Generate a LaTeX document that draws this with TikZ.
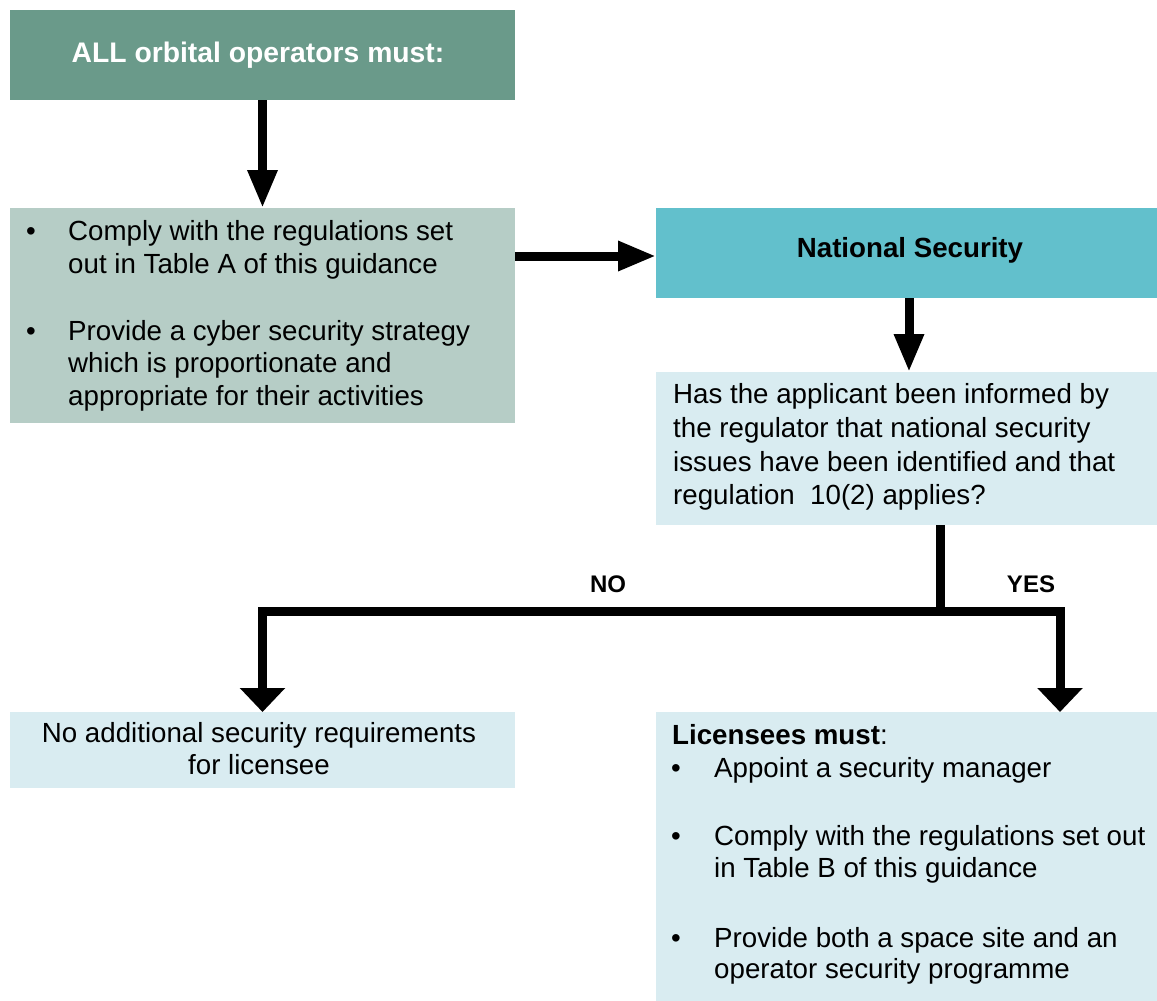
\documentclass[tikz,border=0pt]{standalone}
\usepackage{fontspec}
\setmainfont{Liberation Sans}
\usetikzlibrary{arrows.meta,calc}

\definecolor{headgreen}{RGB}{106,154,138}
\definecolor{palegreen}{RGB}{182,205,198}
\definecolor{teal}{RGB}{98,192,204}
\definecolor{paleblue}{RGB}{217,236,241}

\tikzset{
  box/.style={rectangle, draw=none, inner sep=0pt, outer sep=0pt},
  body/.style={font=\fontsize{27.7bp}{33.5bp}\selectfont, inner sep=0pt, text=black},
  line/.style={anchor=base west, body},
  bul/.style={anchor=base, body},
  flow/.style={line width=9bp, -{Triangle[width=28bp,length=38bp]}},
  branch/.style={line width=9bp, -{Triangle[width=44bp,length=24bp]}},
  stem/.style={line width=9bp},
  answer/.style={anchor=base, inner sep=0pt, font=\fontsize{24bp}{28bp}\selectfont\bfseries}
}

\begin{document}
\begin{tikzpicture}[x=1bp, y=-1bp]
\useasboundingbox (0,0) rectangle (1157,1001);

% boxes
\node[box, fill=headgreen, minimum width=505bp, minimum height=90bp] (top) at (262.5,55) {};
\node[anchor=base, inner sep=0pt, text=white, font=\fontsize{28.3bp}{34bp}\selectfont\bfseries]
  (toptext) at (258,62) {ALL orbital operators must:};
\node[box, fill=palegreen, minimum width=505bp, minimum height=215bp] (rules) at (262.5,315.5) {};
\node[box, fill=teal, minimum width=501bp, minimum height=90bp] (nat) at (906.5,253) {};
\node[anchor=base, inner sep=0pt, font=\fontsize{27.7bp}{33bp}\selectfont\bfseries]
  (nattext) at (910,257) {National Security};
\node[box, fill=paleblue, minimum width=501bp, minimum height=153bp] (ask) at (906.5,448.5) {};
\node[box, fill=paleblue, minimum width=505bp, minimum height=76bp] (none) at (262.5,750) {};
\node[box, fill=paleblue, minimum width=501bp, minimum height=289bp] (must) at (906.5,856.5) {};

% text of the general requirements
\node[bul] (r1b) at (31,240) {•};
\node[line] (r1a) at (68,240) {Comply with the regulations set};
\node[line] (r1c) at (68,273) {out in Table A of this guidance};
\node[bul] (r2b) at (31,340) {•};
\node[line] (r2a) at (68,340) {Provide a cyber security strategy};
\node[line] (r2c) at (68,372) {which is proportionate and};
\node[line] (r2d) at (68,405) {appropriate for their activities};

% question
\node[line] (q1) at (673,403) {Has the applicant been informed by};
\node[line] (q2) at (673,437) {the regulator that national security};
\node[line] (q3) at (673,471) {issues have been identified and that};
\node[line] (q4) at (673,504) {regulation~ 10(2) applies?};

% outcome: no
\node[bul] (n1) at (259,742) {No additional security requirements};
\node[bul] (n2) at (259,774) {for licensee};

% outcome: yes
\node[line] (m0) at (672,744) {\bfseries Licensees must\mdseries:};
\node[bul] (m1b) at (676,777) {•};
\node[line] (m1a) at (714,777) {Appoint a security manager};
\node[bul] (m2b) at (676,845) {•};
\node[line] (m2a) at (714,845) {Comply with the regulations set out};
\node[line] (m2c) at (714,877) {in Table B of this guidance};
\node[bul] (m3b) at (676,947) {•};
\node[line] (m3a) at (714,947) {Provide both a space site and an};
\node[line] (m3c) at (714,978) {operator security programme};

% connectors
\draw[flow] (top) -- (rules);
\draw[flow] (rules.east |- 0,256) -- (nat.west |- 0,256);
\draw[flow] ([xshift=2.5bp]nat.south) -- ([xshift=2.5bp]ask.north);

\coordinate (split) at (940,611);
\coordinate (yesin) at (1060,712);
\draw[stem] (ask.south -| split) -- (split);
\draw[branch] ([xshift=4.5bp]split) -| (none.north);
\draw[branch] ([xshift=-4.5bp]split) -| (yesin);

\node[answer] (no) at (608,592) {NO};
\node[answer] (yes) at (1031,592) {YES};
\end{tikzpicture}
\end{document}
